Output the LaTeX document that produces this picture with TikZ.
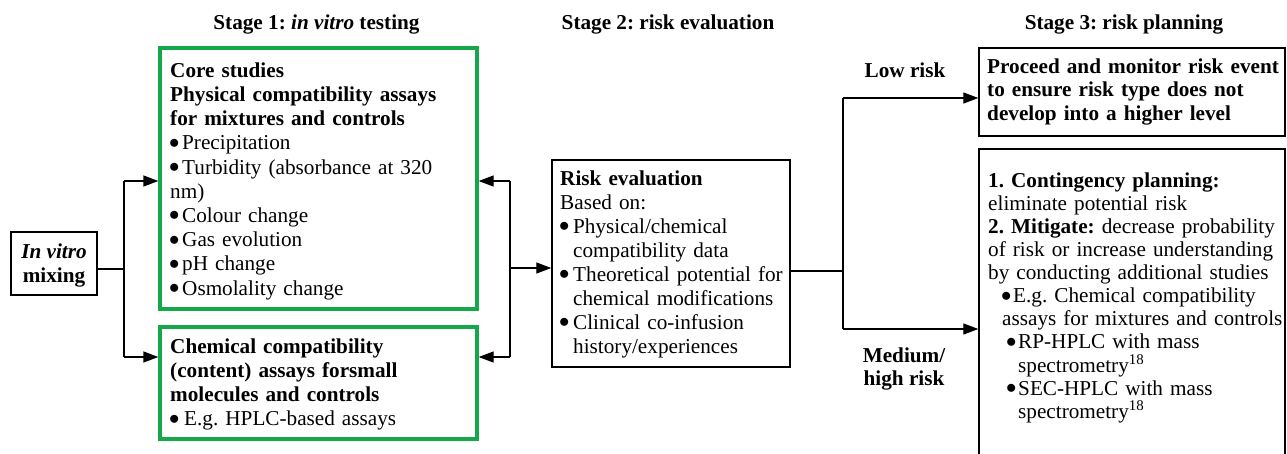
\documentclass[tikz,border=0pt]{standalone}
\usepackage{fontspec}
\setmainfont{Liberation Serif}
\usetikzlibrary{arrows.meta}
\definecolor{boxgreen}{RGB}{20,168,72}
\newcommand{\fl}{\rule{0pt}{16pt}}
\newcommand{\bulw}[1]{\makebox[#1][l]{\hspace*{-1pt}\raisebox{1.5pt}{$\bullet$}}}
\newcommand{\ind}[1]{\hspace*{#1}}
\begin{document}
\frenchspacing
\begin{tikzpicture}[x=1pt,y=-1pt,
  every node/.style={font=\fontsize{21.2}{24.2}\selectfont},
  blk/.style={draw=black, line width=1.4pt, inner sep=0pt, anchor=north west},
  grn/.style={draw=boxgreen, line width=3.3pt, inner sep=0pt, anchor=north west},
  txt/.style={inner sep=0pt, anchor=north west, align=left},
  title/.style={inner sep=0pt, anchor=base, font=\fontsize{21.2}{24.2}\selectfont\bfseries},
  conn/.style={line width=1.3pt},
  arr/.style={conn, -{Triangle[length=15pt,width=11pt]}}
]
\useasboundingbox (0,0) rectangle (1287,453);

% titles
\node[title] (t1) at (316.5,29) {Stage 1: \textit{in vitro} testing};
\node[title] (t2) at (668,29) {Stage 2: risk evaluation};
\node[title] (t3) at (1124,29) {Stage 3: risk planning};

% boxes
\node[blk, minimum width=86pt, minimum height=63pt] (mix) at (10.3,231.3) {};
\node[grn, minimum width=317pt, minimum height=261pt] (core) at (158.35,46.35) {};
\node[grn, minimum width=317pt, minimum height=112pt] (chem) at (158.35,325.35) {};
\node[blk, minimum width=238pt, minimum height=207pt] (risk) at (551.3,159.3) {};
\node[blk, minimum width=306pt, minimum height=88pt] (low) at (978.3,47.3) {};
\node[blk, minimum width=306pt, minimum height=331pt] (plan) at (978.3,148.3) {};

% texts
\node[inner sep=0pt, anchor=north, align=center, font=\fontsize{21.2}{24.2}\selectfont\bfseries] (mixt) at (54,242)
  {\fl\textit{In vitro}\\mixing};

\node[txt, text width=315pt] (coret) at (170,61) {\fl\textbf{Core studies}\\
\textbf{Physical compatibility assays}\\
\textbf{for mixtures and controls}\\
\bulw{12pt}Precipitation\\
\bulw{12pt}Turbidity (absorbance at 320\\
nm)\\
\bulw{12pt}Colour change\\
\bulw{12pt}Gas evolution\\
\bulw{12pt}pH change\\
\bulw{12pt}Osmolality change};

\node[txt, text width=315pt] (chemt) at (170,337) {\fl\textbf{Chemical compatibility}\\
\textbf{(content) assays forsmall}\\
\textbf{molecules and controls}\\
\bulw{14pt}E.g. HPLC-based assays};

\node[txt, text width=240pt, font=\fontsize{21.2}{24}\selectfont] (riskt) at (560,169) {\fl\textbf{Risk evaluation}\\
Based on:\\
\bulw{13pt}Physical/chemical\\
\ind{13pt}compatibility data\\
\bulw{13pt}Theoretical potential for\\
\ind{13pt}chemical modifications\\
\bulw{13pt}Clinical co-infusion\\
\ind{13pt}history/experiences};

\node[txt, text width=300pt, font=\fontsize{21.2}{23.5}\selectfont\bfseries] (lowt) at (987,57) {\fl Proceed and monitor risk event\\
to ensure risk type does not\\
develop into a higher level};

\node[txt, text width=300pt, font=\fontsize{21.2}{23.1}\selectfont] (plant) at (988,171) {\fl\textbf{1. Contingency planning:}\\
eliminate potential risk\\
\textbf{2. Mitigate:} decrease probability\\
of risk or increase understanding\\
by conducting additional studies\\
\ind{14pt}\bulw{11pt}E.g. Chemical compatibility\\
\ind{14pt}assays for mixtures and controls\\
\ind{19pt}\bulw{11pt}RP-HPLC with mass\\
\ind{30pt}spectrometry\textsuperscript{18}\\
\ind{19pt}\bulw{11pt}SEC-HPLC with mass\\
\ind{30pt}spectrometry\textsuperscript{18}};

% labels
\node[title] (lowl) at (905,77) {Low risk};
\node[inner sep=0pt, anchor=north, align=center, font=\fontsize{21.2}{23}\selectfont\bfseries] (medl) at (904,346)
  {\fl Medium/\\high risk};

% connectors
\coordinate (j1) at (124,269);
\coordinate (j1t) at (124,181);
\coordinate (j1b) at (124,357);
\draw[conn] (mix.east |- j1) -- (j1);
\draw[conn] (j1t) -- (j1b);
\draw[arr] (j1t) -- (core.west |- j1t);
\draw[arr] (j1b) -- (chem.west |- j1b);

\coordinate (j2t) at (510,181);
\coordinate (j2b) at (510,357);
\coordinate (j2m) at (511,268);
\draw[conn] (j2t) -- (j2b);
\draw[arr] (j2t) -- (core.east |- j2t);
\draw[arr] (j2b) -- (chem.east |- j2b);
\draw[arr] (j2m) -- (risk.west |- j2m);

\coordinate (j3) at (844,271);
\coordinate (j3t) at (843,98);
\coordinate (j3b) at (843,329);
\draw[conn] (risk.east |- j3) -- (j3);
\draw[conn] (j3t) -- (j3b);
\draw[arr] (j3t) -- (low.west |- j3t);
\draw[arr] (j3b) -- (plan.west |- j3b);
\end{tikzpicture}
\end{document}
